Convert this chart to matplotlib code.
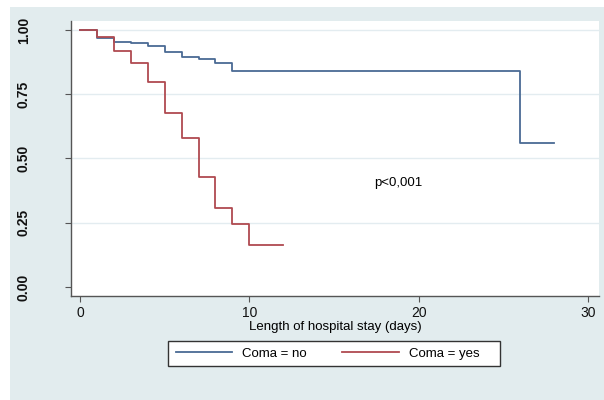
import matplotlib
matplotlib.use("Agg")
import matplotlib.pyplot as plt
from matplotlib.lines import Line2D
from matplotlib.patches import Rectangle

plt.rcParams['font.family'] = ['Liberation Sans', 'DejaVu Sans']

# Kaplan-Meier step data
no_t = [0, 1, 2, 3, 4, 5, 6, 7, 8, 9, 26, 28]
no_s = [1.00, 0.968, 0.955, 0.948, 0.939, 0.916, 0.896, 0.886, 0.870, 0.841, 0.561, 0.561]
yes_t = [0, 1, 2, 3, 4, 5, 6, 7, 8, 9, 10, 12]
yes_s = [1.00, 0.974, 0.918, 0.873, 0.799, 0.676, 0.580, 0.429, 0.306, 0.246, 0.163, 0.163]

xticks = [0, 10, 20, 30]
yticks = [0.00, 0.25, 0.50, 0.75, 1.00]
ytick_labels = ["0.00", "0.25", "0.50", "0.75", "1.00"]
labels = ["Coma = no", "Coma = yes"]

blue = "#4a6a94"
red = "#b04a50"
bg = "#e2ecee"
grid = "#e3ecf0"

W, H = 604, 400
fig = plt.figure(figsize=(6.04, 4.00), dpi=100, facecolor="white")
fig.patches.append(Rectangle((10/W, 0), 1 - 10/W, 1 - 7/H, transform=fig.transFigure,
                             facecolor=bg, edgecolor="none", zorder=-5))
ax = fig.add_axes([71/W, 1-296/H, (599-71)/W, (296-21)/H])
ax.set_facecolor("white")

ax.step(no_t, no_s, where="post", color=blue, lw=1.3, zorder=3)
ax.step(yes_t, yes_s, where="post", color=red, lw=1.3, zorder=3)

ax.set_xlim(-0.53, 30.65)
ax.set_ylim(-0.035, 1.035)
ax.set_xticks(xticks)
ax.set_yticks(yticks)
ax.set_yticklabels(ytick_labels, rotation=90, va="center", fontweight="bold")
for y in yticks[1:]:
    ax.axhline(y, color=grid, lw=1.0, zorder=1)

for side in ["top", "right"]:
    ax.spines[side].set_visible(False)
for side in ["left", "bottom"]:
    ax.spines[side].set_color("#555555")
    ax.spines[side].set_linewidth(1.0)
ax.tick_params(axis="both", direction="out", length=4, width=0.8, color="#555555",
               labelsize=10, labelcolor="#111111")
ax.tick_params(axis="y", pad=25)
ax.tick_params(axis="x", pad=3)

ax.set_xlabel("Length of hospital stay (days)", fontsize=9.5, labelpad=1)
ax.text(18.8, 0.403, "p<0,001", fontsize=9.5, ha="center", va="center")

handles = [Line2D([0], [0], color=blue, lw=1.3), Line2D([0], [0], color=red, lw=1.3)]
leg = fig.legend(handles, labels, ncol=2, loc="center left",
                 bbox_to_anchor=(163/W, 1-353.5/H), fontsize=9.5,
                 handlelength=4.3, columnspacing=2.7, handletextpad=0.75,
                 frameon=False, borderpad=0.45)
fig.patches.append(Rectangle((168/W, 1-366/H), (500-168)/W, 25/H, transform=fig.transFigure,
                             facecolor="white", edgecolor="#333333", lw=1.0, zorder=1))

fig.savefig("out.png", dpi=100, facecolor="white")
